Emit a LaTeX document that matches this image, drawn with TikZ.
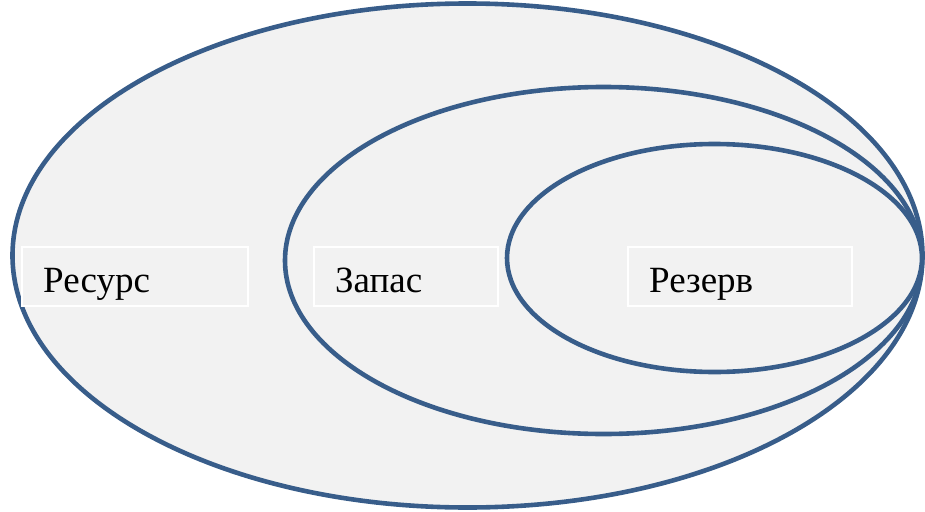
\documentclass[tikz,border=0pt]{standalone}
\usepackage{fontspec}
\setmainfont{Liberation Serif}
\usetikzlibrary{shapes.geometric}
\definecolor{ringblue}{HTML}{385D8A}
\definecolor{ringfill}{HTML}{F2F2F2}
\tikzset{
  ring/.style={ellipse, draw=ringblue, fill=ringfill, line width=4.6pt, inner sep=0pt},
  labelbox/.style={rectangle, draw=white, line width=1.2pt, fill=ringfill, inner sep=0pt, minimum height=59pt},
  labeltext/.style={anchor=base west, inner sep=0pt, font=\fontsize{37}{40}\selectfont}
}
\begin{document}
\begin{tikzpicture}[x=1pt,y=-1pt]
  \useasboundingbox (0,0) rectangle (925,511);
  % nested ellipses, all touching at the right
  \node[ring, minimum width=910pt, minimum height=504pt] (resource) at (467.5,255.5) {};
  \node[ring, minimum width=637pt, minimum height=347pt] (stock) at (603.5,260.5) {};
  \node[ring, minimum width=415pt, minimum height=228pt] (reserve) at (714.5,258) {};
  % caption boxes
  \node[labelbox, minimum width=226pt] (resourcebox) at (135,276.5) {};
  \node[labelbox, minimum width=184pt] (stockbox) at (406,276.5) {};
  \node[labelbox, minimum width=224pt] (reservebox) at (740,276.5) {};
  \node[labeltext] (resourcetext) at (43,292) {Ресурс};
  \node[labeltext] (stocktext) at (335,292) {Запас};
  \node[labeltext] (reservetext) at (649,292) {Резерв};
\end{tikzpicture}
\end{document}
